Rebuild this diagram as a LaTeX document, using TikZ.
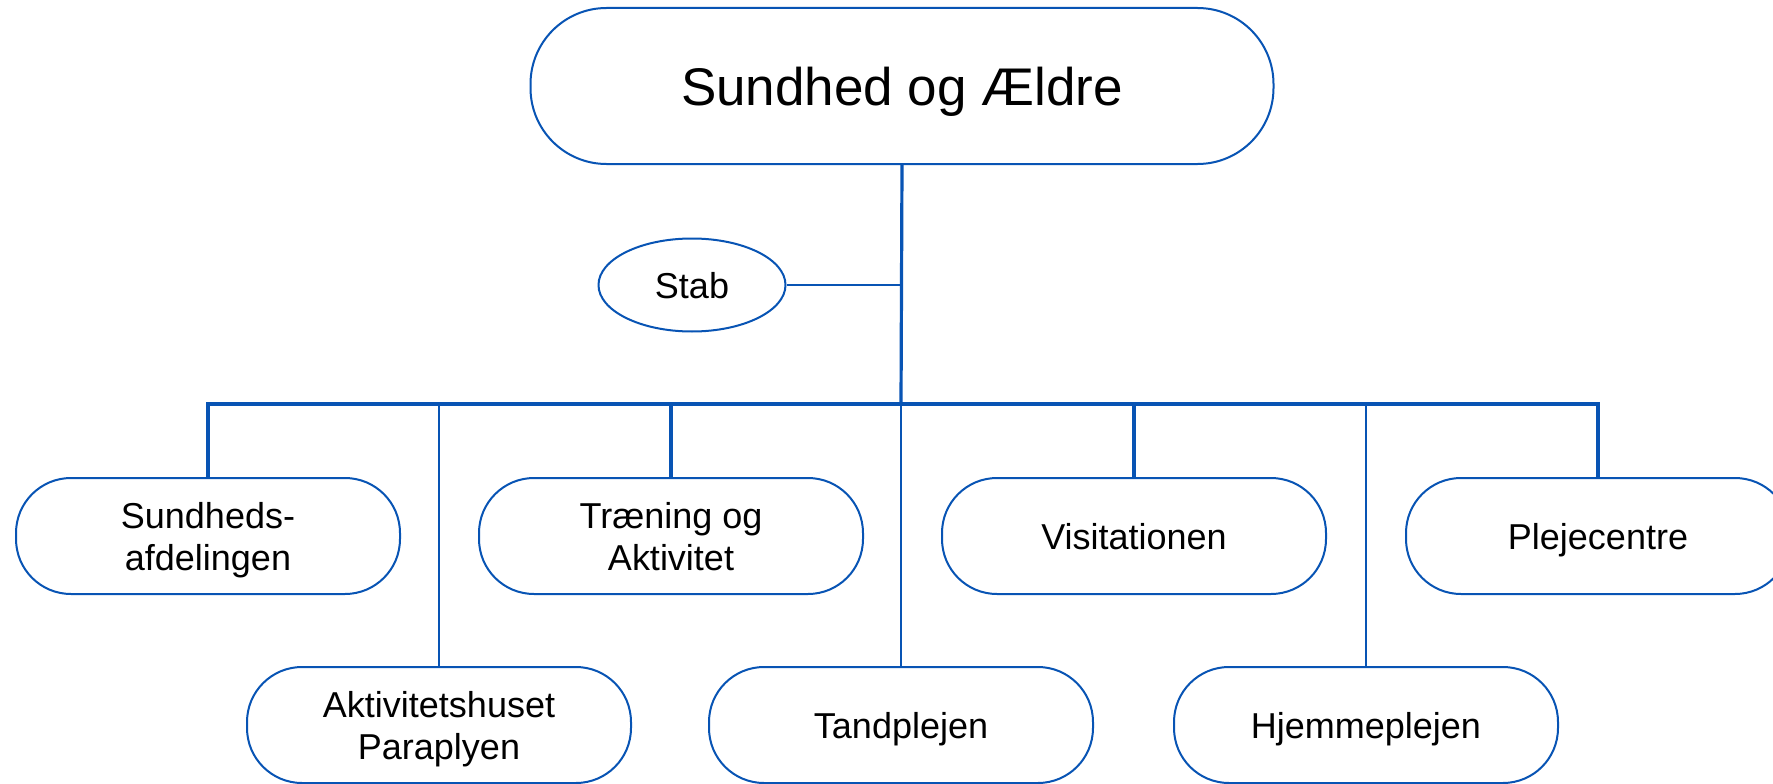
\documentclass[tikz,border=0pt]{standalone}
\usepackage{fontspec}
\setmainfont{Liberation Sans}
\usetikzlibrary{shapes.geometric}
\definecolor{orgblue}{RGB}{8,84,180}
\tikzset{
  unitbox/.style={draw=orgblue, line width=2pt, rectangle, rounded corners=55pt,
    minimum width=384pt, minimum height=116pt, inner sep=0pt, align=center,
    text depth=0pt, font=\fontsize{36}{42}\selectfont, text=black, fill=white},
  topbox/.style={draw=orgblue, line width=2pt, rectangle, rounded corners=76pt,
    minimum width=743pt, minimum height=156pt, inner sep=0pt, text depth=0pt,
    font=\fontsize{53}{60}\selectfont, text=black, fill=white},
  stabbox/.style={draw=orgblue, line width=2pt, ellipse,
    minimum width=187pt, minimum height=93pt, inner sep=0pt, text depth=0pt,
    font=\fontsize{36}{42}\selectfont, text=black, fill=white},
  heavyline/.style={draw=orgblue, line width=3.2pt},
  lightline/.style={draw=orgblue, line width=2pt},
}
\begin{document}
\begin{tikzpicture}[x=1pt,y=-1pt]
\useasboundingbox (0,0) rectangle (1773,784);
\fill[white] (0,0) rectangle (1773,784);
\coordinate (bus) at (901,404);
\node[topbox] (main) at (902,86) {Sundhed og Ældre};
\node[stabbox] (stab) at (692,285) {Stab};
\node[unitbox] (sund) at (208,536) {Sundheds-\\afdelingen};
\node[unitbox] (tran) at (671,536) {Træning og\\Aktivitet};
\node[unitbox] (visi) at (1134,536) {Visitationen};
\node[unitbox] (pleje) at (1598,536) {Plejecentre};
\node[unitbox] (akt) at (439,725) {Aktivitetshuset\\Paraplyen};
\node[unitbox] (tand) at (901,725) {Tandplejen};
\node[unitbox] (hjem) at (1366,725) {Hjemmeplejen};
\draw[heavyline] (main.south) -- (bus);
\draw[lightline] (stab.east) -- (stab.east -| bus);
\draw[heavyline, line join=miter] (sund.north) -- (sund.north |- bus) -- (pleje.north |- bus) -- (pleje.north);
\draw[heavyline] (tran.north) -- (tran.north |- bus);
\draw[heavyline] (visi.north) -- (visi.north |- bus);
\draw[lightline] (akt.north) -- (akt.north |- bus);
\draw[lightline] (tand.north) -- (tand.north |- bus);
\draw[lightline] (hjem.north) -- (hjem.north |- bus);
\end{tikzpicture}
\end{document}
